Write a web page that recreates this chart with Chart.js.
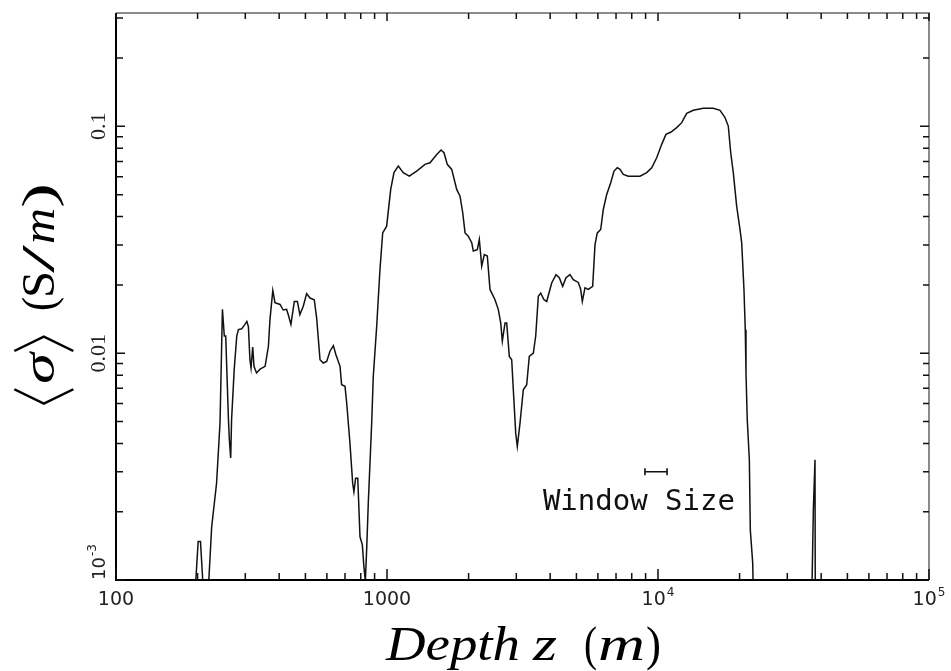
<!DOCTYPE html>
<html>
<head>
<meta charset="utf-8">
<script src="https://cdn.jsdelivr.net/npm/chart.js@4.4.1/dist/chart.umd.min.js"></script>
<style>
  html, body { margin: 0; padding: 0; background: #fff; }
  #wrap { width: 951px; height: 671px; }
</style>
</head>
<body>
<div id="wrap"><canvas id="sigmaChart" width="951" height="671"></canvas></div>
<script>
// depth (m) and windowed mean conductivity (S/m)
const depth = [
  196, 201, 205, 210, 219, 225.5, 235, 242, 247, 251,
  254, 260, 262, 265, 267, 273, 279, 283, 291, 299,
  304, 308, 312, 315, 319.5, 323, 330, 340, 355, 365,
  370, 379, 386, 403, 414, 426, 432, 442, 455, 467,
  477, 491, 505, 520, 539, 550, 566, 582, 599, 616,
  634, 648, 671, 680, 700, 710, 730, 747, 755, 766,
  780, 795, 811, 822, 832, 842, 853, 878, 890, 916,
  942, 964, 997, 1032, 1061, 1101, 1148, 1208, 1287, 1381,
  1441, 1526, 1583, 1623, 1669, 1733, 1808, 1860, 1903, 1941,
  1995, 2054, 2082, 2154, 2191, 2236, 2286, 2345, 2399, 2503,
  2574, 2628, 2664, 2726, 2765, 2827, 2885, 2925, 2985, 3026,
  3096, 3184, 3277, 3350, 3467, 3538, 3617, 3692, 3796, 3885,
  4052, 4203, 4323, 4449, 4576, 4734, 4869, 5081, 5185, 5257,
  5378, 5531, 5741, 5855, 5970, 6146, 6283, 6467, 6691, 6881,
  7076, 7241, 7447, 7769, 8582, 9086, 9480, 9890, 10320, 10700,
  11170, 11720, 12230, 12760, 13500, 14690, 16000, 16940, 17670, 18170,
  18550, 18960, 19510, 20070, 20360, 20760, 20990, 21120, 21350, 21730,
  21910, 22360, 22510, 36920, 37430, 37960, 38060
];
const sigma = [
  0.0009, 0.00148, 0.00148, 0.0009, 0.0009, 0.00172, 0.00267, 0.00492, 0.0156, 0.0119,
  0.0119, 0.00509, 0.00415, 0.00345, 0.00509, 0.00846, 0.0119, 0.0127, 0.0128, 0.0134,
  0.0138, 0.0131, 0.00936, 0.0086, 0.01065, 0.00875, 0.00818, 0.0085, 0.00875, 0.0107,
  0.0141, 0.0189, 0.0167, 0.0164, 0.0155, 0.0156, 0.0148, 0.0134, 0.0169, 0.0169,
  0.0148, 0.0161, 0.0183, 0.0175, 0.0172, 0.0143, 0.00936, 0.00905, 0.0092, 0.0102,
  0.0108, 0.00985, 0.00875, 0.00726, 0.00714, 0.00603, 0.00401, 0.00267, 0.00245, 0.00281,
  0.00281, 0.00155, 0.00143, 0.00114, 0.00099, 0.0014, 0.00218, 0.00492, 0.0079, 0.0131,
  0.0234, 0.0339, 0.0363, 0.0527, 0.0625, 0.0668, 0.0625, 0.0603, 0.0635, 0.068,
  0.0691, 0.0752, 0.0786, 0.0765, 0.068, 0.0646, 0.0527, 0.0492, 0.0416, 0.0339,
  0.0328, 0.0307, 0.0282, 0.0286, 0.0317, 0.0242, 0.0272, 0.0268, 0.0191, 0.0172,
  0.0156, 0.0136, 0.0113, 0.0136, 0.0136, 0.00968, 0.00936, 0.0069, 0.00444, 0.00388,
  0.00492, 0.0069, 0.00726, 0.00968, 0.01, 0.0119, 0.0178, 0.0184, 0.0172, 0.0169,
  0.0204, 0.0222, 0.0215, 0.0197, 0.0215, 0.0222, 0.0211, 0.0205, 0.0191, 0.0169,
  0.0194, 0.0191, 0.0197, 0.0301, 0.0339, 0.0351, 0.043, 0.0501, 0.0564, 0.0635,
  0.0657, 0.0646, 0.0614, 0.0603, 0.0603, 0.0625, 0.0657, 0.0727, 0.0833, 0.0922,
  0.0944, 0.0987, 0.1038, 0.1141, 0.1177, 0.1201, 0.1201, 0.1177, 0.1093, 0.1003,
  0.0765, 0.0625, 0.0445, 0.0351, 0.0307, 0.0191, 0.0127, 0.00818, 0.00509, 0.00339,
  0.00166, 0.00119, 0.0008, 0.0008, 0.00204, 0.00339, 0.0007
];

const xTickValues = [100, 1000, 10000, 100000];
const xTickLabels = ['100', '1000', '10^4', '10^5'];
const yTickValues = [0.001, 0.01, 0.1];
const yTickLabels = ['10^-3', '0.01', '0.1'];

const windowBar = [8950, 10800];
const windowLevel = 0.003;
const windowLabel = 'Window Size';
const windowLabelAt = [3760, 0.00204];

// minor ticks at 2..9 of every decade
function minorTicks(from, to) {
  const out = [];
  for (let d = from; d < to; d *= 10) {
    for (let k = 2; k <= 9; k++) out.push(d * k);
  }
  return out;
}
const xMinor = minorTicks(100, 100000);
const yMinor = minorTicks(0.001, 1).filter(v => v < 0.316);

// labels like "10^4" get a raised exponent
function richWidth(ctx, text, size, family) {
  const [base, sup] = text.split('^');
  ctx.font = `${size}px ${family}`;
  let w = ctx.measureText(base).width;
  if (sup) {
    ctx.font = `${Math.round(size * 0.65)}px ${family}`;
    w += ctx.measureText(sup).width + 1;
  }
  return w;
}
function drawRich(ctx, text, x0, y, size, family) {
  const [base, sup] = text.split('^');
  ctx.font = `${size}px ${family}`;
  ctx.fillText(base, x0, y);
  if (sup) {
    const w = ctx.measureText(base).width;
    ctx.font = `${Math.round(size * 0.65)}px ${family}`;
    ctx.fillText(sup, x0 + w + 1, y - size * 0.5);
  }
}

// stretch a piece of text so its advance runs from x0 to x1
function fitText(ctx, str, font, x0, x1, y) {
  ctx.font = font;
  const w = ctx.measureText(str).width;
  ctx.save();
  ctx.translate(x0, y);
  ctx.scale((x1 - x0) / w, 1);
  ctx.fillText(str, 0, 0);
  ctx.restore();
}

// fit the ink of a glyph into a box (used for the tall angle brackets)
function fitInk(ctx, str, font, x0, x1, y0, y1) {
  ctx.font = font;
  const m = ctx.measureText(str);
  const iw = m.actualBoundingBoxLeft + m.actualBoundingBoxRight;
  const ih = m.actualBoundingBoxAscent + m.actualBoundingBoxDescent;
  const sx = (x1 - x0) / iw, sy = (y1 - y0) / ih;
  ctx.save();
  ctx.translate(x0 + m.actualBoundingBoxLeft * sx, y0 + m.actualBoundingBoxAscent * sy);
  ctx.scale(sx, sy);
  ctx.fillText(str, 0, 0);
  ctx.restore();
}

const frame = {
  id: 'frame',
  afterDatasetsDraw(chart) {
    const { ctx, chartArea: a, scales: { x, y } } = chart;
    ctx.save();
    ctx.lineCap = 'butt';

    // box: top and right lighter
    ctx.strokeStyle = '#666';
    ctx.lineWidth = 1.5;
    ctx.beginPath();
    ctx.moveTo(a.left, a.top); ctx.lineTo(a.right, a.top); ctx.lineTo(a.right, a.bottom);
    ctx.stroke();
    ctx.strokeStyle = '#000';
    ctx.lineWidth = 2;
    ctx.beginPath();
    ctx.moveTo(a.left, a.top); ctx.lineTo(a.left, a.bottom); ctx.lineTo(a.right, a.bottom);
    ctx.stroke();

    // inward ticks
    ctx.lineWidth = 1.5;
    ctx.strokeStyle = '#111';
    const tickX = (v, lb, lt) => {
      const p = x.getPixelForValue(v);
      ctx.beginPath();
      ctx.moveTo(p, a.bottom); ctx.lineTo(p, a.bottom - lb);
      ctx.moveTo(p, a.top); ctx.lineTo(p, a.top + lt);
      ctx.stroke();
    };
    const tickY = (v, ll, lr) => {
      const p = y.getPixelForValue(v);
      ctx.beginPath();
      ctx.moveTo(a.left, p); ctx.lineTo(a.left + ll, p);
      ctx.moveTo(a.right, p); ctx.lineTo(a.right - lr, p);
      ctx.stroke();
    };
    xMinor.forEach(v => tickX(v, 7, 6));
    xTickValues.forEach(v => tickX(v, 11, 8));
    yMinor.forEach(v => tickY(v, 7, 6));
    yTickValues.forEach(v => tickY(v, 9, 9));

    // x tick labels
    ctx.fillStyle = '#222';
    ctx.textAlign = 'left';
    ctx.textBaseline = 'alphabetic';
    const xFam = "'DejaVu Sans'";
    xTickLabels.forEach((t, i) => {
      const p = x.getPixelForValue(xTickValues[i]);
      const w = richWidth(ctx, t, 19, xFam);
      drawRich(ctx, t, p - w / 2, a.bottom + 25, 19, xFam);
    });

    // y tick labels, turned to read upward
    yTickLabels.forEach((t, i) => {
      const sup = t.includes('^');
      const fam = sup ? "'DejaVu Sans'" : "'Liberation Serif'";
      const size = sup ? 18 : 22;
      const w = richWidth(ctx, t, size, fam);
      let c = y.getPixelForValue(yTickValues[i]);
      c = Math.min(c, a.bottom - w / 2);
      ctx.save();
      ctx.translate(a.left - 11, c);
      ctx.rotate(-Math.PI / 2);
      drawRich(ctx, t, -w / 2, 0, size, fam);
      ctx.restore();
    });

    // window size marker
    const wx0 = x.getPixelForValue(windowBar[0]);
    const wx1 = x.getPixelForValue(windowBar[1]);
    const wy = y.getPixelForValue(windowLevel);
    ctx.strokeStyle = '#111';
    ctx.lineWidth = 1.6;
    ctx.beginPath();
    ctx.moveTo(wx0, wy); ctx.lineTo(wx1, wy);
    ctx.moveTo(wx0, wy - 3.5); ctx.lineTo(wx0, wy + 3.5);
    ctx.moveTo(wx1, wy - 3.5); ctx.lineTo(wx1, wy + 3.5);
    ctx.stroke();
    ctx.fillStyle = '#111';
    ctx.font = "29px 'DejaVu Sans Mono'";
    ctx.fillText(windowLabel, x.getPixelForValue(windowLabelAt[0]), y.getPixelForValue(windowLabelAt[1]));

    // axis titles
    const it = "italic 48px 'Liberation Serif'";
    const up = "48px 'Liberation Serif'";
    ctx.fillStyle = '#000';
    fitText(ctx, 'Depth', it, 386, 520, 660);
    fitText(ctx, 'z', it, 533, 557, 660);
    fitText(ctx, '(', up, 584, 597, 660);
    fitText(ctx, 'm', it, 598, 645, 660);
    fitText(ctx, ')', up, 646, 661, 660);

    ctx.save();
    ctx.translate(54, 410);
    ctx.rotate(-Math.PI / 2);
    const yi = "italic 46px 'Liberation Serif'";
    const yu = "46px 'Liberation Serif'";
    const br = "200 60px 'Noto Sans CJK JP'";
    fitInk(ctx, '\u3008', br, 5, 22, -42, 19);
    fitText(ctx, '\u03C3', yi, 26, 57, 0);
    fitInk(ctx, '\u3009', br, 58, 75, -42, 19);
    fitText(ctx, '(', yu, 99, 113, 0);
    fitText(ctx, 'S', yu, 112, 139, 0);
    fitText(ctx, '/', yu, 137, 165, 0);
    fitText(ctx, 'm', yi, 166, 202, 0);
    fitText(ctx, ')', yu, 202, 227, 0);
    ctx.restore();

    ctx.restore();
  }
};

const whiteBg = {
  id: 'whiteBg',
  beforeDraw(chart) {
    const { ctx, width, height } = chart;
    ctx.save();
    ctx.fillStyle = '#fff';
    ctx.fillRect(0, 0, width, height);
    ctx.restore();
  }
};

const ctx = document.getElementById('sigmaChart').getContext('2d');
const sigmaChart = new Chart(ctx, {
  type: 'line',
  data: {
    datasets: [{
      label: 'sigma',
      data: depth.map((d, i) => ({ x: d, y: sigma[i] })),
      borderColor: '#111',
      borderWidth: 1.5,
      pointRadius: 0,
      tension: 0,
      fill: false,
      clip: 0
    }]
  },
  options: {
    responsive: false,
    animation: false,
    layout: { padding: { left: 116, top: 13, right: 22, bottom: 91 } },
    plugins: {
      legend: { display: false },
      tooltip: { enabled: false }
    },
    scales: {
      x: { type: 'logarithmic', min: 100, max: 100000, display: false },
      y: { type: 'logarithmic', min: 0.001, max: 0.316, display: false }
    }
  },
  plugins: [whiteBg, frame]
});
</script>
</body>
</html>
